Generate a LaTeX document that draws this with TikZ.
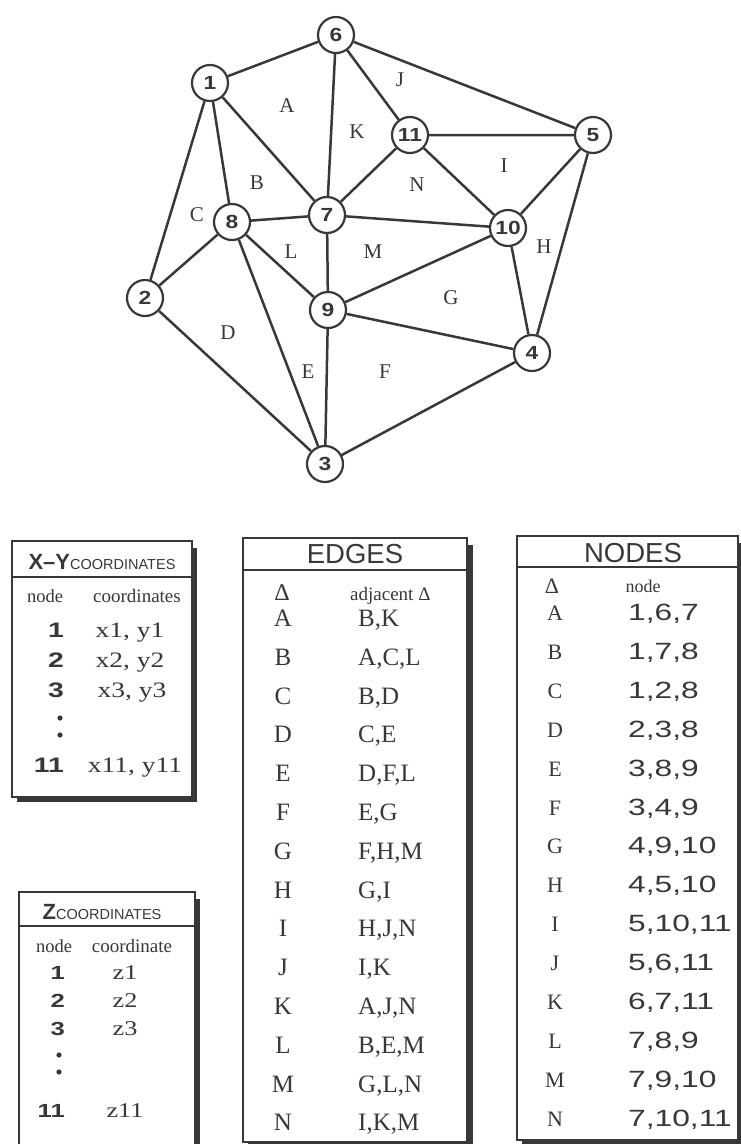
\documentclass[tikz,border=0pt]{standalone}
\usepackage{fontspec}
\setmainfont{Liberation Serif}
\setsansfont{Liberation Sans}
\newfontfamily\widesans[FakeStretch=1.35]{Liberation Sans}
\newfontfamily\circsans[FakeStretch=1.2]{Liberation Sans}
\newfontfamily\wideserif[FakeStretch=1.25]{Liberation Serif}
\colorlet{ink}{black!78}
\tikzset{
  vtx/.style={circle, draw=ink, line width=2.2pt, minimum size=36pt, inner sep=0pt,
    text=ink, font=\circsans\bfseries\fontsize{19}{19}\selectfont},
  face/.style={text=ink, font=\fontsize{21}{21}\selectfont},
  tbox/.style={draw=ink, line width=1.5pt, fill=white},
  tshadow/.style={fill=ink},
  cell/.style={anchor=base, inner sep=0pt, text=ink},
}
\begin{document}
\begin{tikzpicture}[x=1pt, y=-1pt]
		\useasboundingbox (0,0) rectangle (740,1144);
		% triangulated mesh
		\node[vtx] (n1) at (210,83) {1};
		\node[vtx] (n2) at (145,298) {2};
		\node[vtx] (n3) at (325,464) {3};
		\node[vtx] (n4) at (532,353) {4};
		\node[vtx] (n5) at (593,135) {5};
		\node[vtx] (n6) at (336,35) {6};
		\node[vtx] (n7) at (327,215) {7};
		\node[vtx] (n8) at (232,222) {8};
		\node[vtx] (n9) at (328,310) {9};
		\node[vtx] (n10) at (508,228) {10};
		\node[vtx] (n11) at (410,135) {11};
		\draw[ink, line width=2.5pt] (n1) -- (n6) (n6) -- (n5) (n1) -- (n2) (n1) -- (n8) (n1) -- (n7)
			(n6) -- (n7) (n6) -- (n11) (n11) -- (n5) (n11) -- (n7) (n11) -- (n10) (n5) -- (n10)
			(n5) -- (n4) (n7) -- (n10) (n7) -- (n8) (n7) -- (n9) (n8) -- (n2) (n8) -- (n9)
			(n8) -- (n3) (n2) -- (n3) (n9) -- (n10) (n9) -- (n4) (n9) -- (n3) (n10) -- (n4) (n4) -- (n3);
		\node[face] (fA) at (287,106) {A};
		\node[face] (fB) at (257,183) {B};
		\node[face] (fC) at (197,215) {C};
		\node[face] (fD) at (228,333) {D};
		\node[face] (fE) at (308,372) {E};
		\node[face] (fF) at (385,372) {F};
		\node[face] (fG) at (451,298) {G};
		\node[face] (fH) at (544,247) {H};
		\node[face] (fI) at (504,166) {I};
		\node[face] (fJ) at (400,80) {J};
		\node[face] (fK) at (357,132) {K};
		\node[face] (fL) at (291,252) {L};
		\node[face] (fM) at (373,252) {M};
		\node[face] (fN) at (417,185) {N};

		% X-Y coordinates table
		\fill[tshadow] (17,548) rectangle (197,802);
		\draw[tbox] (12,541) rectangle (192,797);
		\draw[ink, line width=2pt] (12,577) -- (192,577);
		\node[cell, font=\sffamily] (xytitle) at (102,569)
			{\fontsize{22}{22}\selectfont\bfseries X–Y\mdseries\fontsize{14.5}{14.5}\selectfont COORDINATES};
		\node[cell, font=\fontsize{18.5}{18.5}\selectfont] (xynode) at (45,602) {node};
		\node[cell, font=\fontsize{19}{19}\selectfont] (xycoord) at (137,602) {coordinates};
		\foreach \n/\c/\y/\cx in {1/{x1, y1}/637/130, 2/{x2, y2}/667/130, 3/{x3, y3}/697/132, 11/{x11, y11}/772/135}{
			\node[cell, anchor=base east, font=\widesans\bfseries\fontsize{21}{21}\selectfont] (xyn\n) at (64,\y) {\n};
			\node[cell, font=\wideserif\fontsize{22}{22}\selectfont] (xyc\n) at (\cx,\y) {\c};
		}
		\fill[ink] (60,718) circle[radius=2.6pt] (60,735) circle[radius=2.6pt];

		% Z coordinates table
		\fill[tshadow] (24,899) rectangle (200,1160);
		\draw[tbox] (19,892) rectangle (195,1155);
		\draw[ink, line width=2pt] (19,926) -- (195,926);
		\node[cell, font=\sffamily] (ztitle) at (102,919)
			{\fontsize{22}{22}\selectfont\bfseries Z\mdseries\fontsize{14.5}{14.5}\selectfont COORDINATES};
		\node[cell, font=\fontsize{18.5}{18.5}\selectfont] (znode) at (54,952) {node};
		\node[cell, font=\fontsize{19}{19}\selectfont] (zcoord) at (132,952) {coordinate};
		\foreach \n/\y in {1/979, 2/1007, 3/1035, 11/1117}{
			\node[cell, anchor=base east, font=\widesans\bfseries\fontsize{19}{19}\selectfont] (zn\n) at (65,\y) {\n};
			\node[cell, font=\wideserif\fontsize{21}{21}\selectfont] (zc\n) at (125,\y) {z\n};
		}
		\fill[ink] (59,1055) circle[radius=2.6pt] (59,1072) circle[radius=2.6pt];

		% edges table
		\fill[tshadow] (248,545) rectangle (473,1148);
		\draw[tbox] (243,538) rectangle (467,1142);
		\draw[ink, line width=2pt] (243,570) -- (467,570);
		\node[cell, font=\sffamily\fontsize{27.5}{27.5}\selectfont] (etitle) at (355,563) {EDGES};
		\node[cell, font=\fontsize{24}{24}\selectfont] (edelta) at (282,600) {Δ};
		\node[cell, anchor=base west, font=\fontsize{19}{19}\selectfont] (eadj) at (350,600) {adjacent Δ};
		\foreach \t/\a [count=\i from 0] in {A/{B,K}, B/{A,C,L}, C/{B,D}, D/{C,E}, E/{D,F,L}, F/{E,G},
			G/{F,H,M}, H/{G,I}, I/{H,J,N}, J/{I,K}, K/{A,J,N}, L/{B,E,M}, M/{G,L,N}, N/{I,K,M}}{
			\node[cell, font=\fontsize{25}{25}\selectfont] (et\t) at (283,{626.5+38.8*\i}) {\t};
			\node[cell, anchor=base west, font=\fontsize{25}{25}\selectfont] (ea\t) at (358,{626.5+38.8*\i}) {\a};
		}

		% nodes table
		\fill[tshadow] (522,543) rectangle (744,1146);
		\draw[tbox] (517,536) rectangle (738,1140);
		\draw[ink, line width=2pt] (517,567) -- (738,567);
		\node[cell, font=\sffamily\fontsize{27.5}{27.5}\selectfont] (ntitle) at (633,562) {NODES};
		\node[cell, font=\fontsize{22}{22}\selectfont] (ndelta) at (552,593) {Δ};
		\node[cell, font=\fontsize{18}{18}\selectfont] (nnode) at (643,592) {node};
		\foreach \t/\a [count=\i from 0] in {A/{1,6,7}, B/{1,7,8}, C/{1,2,8}, D/{2,3,8}, E/{3,8,9}, F/{3,4,9},
			G/{4,9,10}, H/{4,5,10}, I/{5,10,11}, J/{5,6,11}, K/{6,7,11}, L/{7,8,9}, M/{7,9,10}, N/{7,10,11}}{
			\node[cell, font=\fontsize{22}{22}\selectfont] (nt\t) at (555,{620.5+38.9*\i}) {\t};
			\node[cell, anchor=base west, font=\widesans\fontsize{23.5}{23.5}\selectfont] (na\t) at (628,{620.5+38.9*\i}) {\a};
		}
	\end{tikzpicture}
\end{document}
